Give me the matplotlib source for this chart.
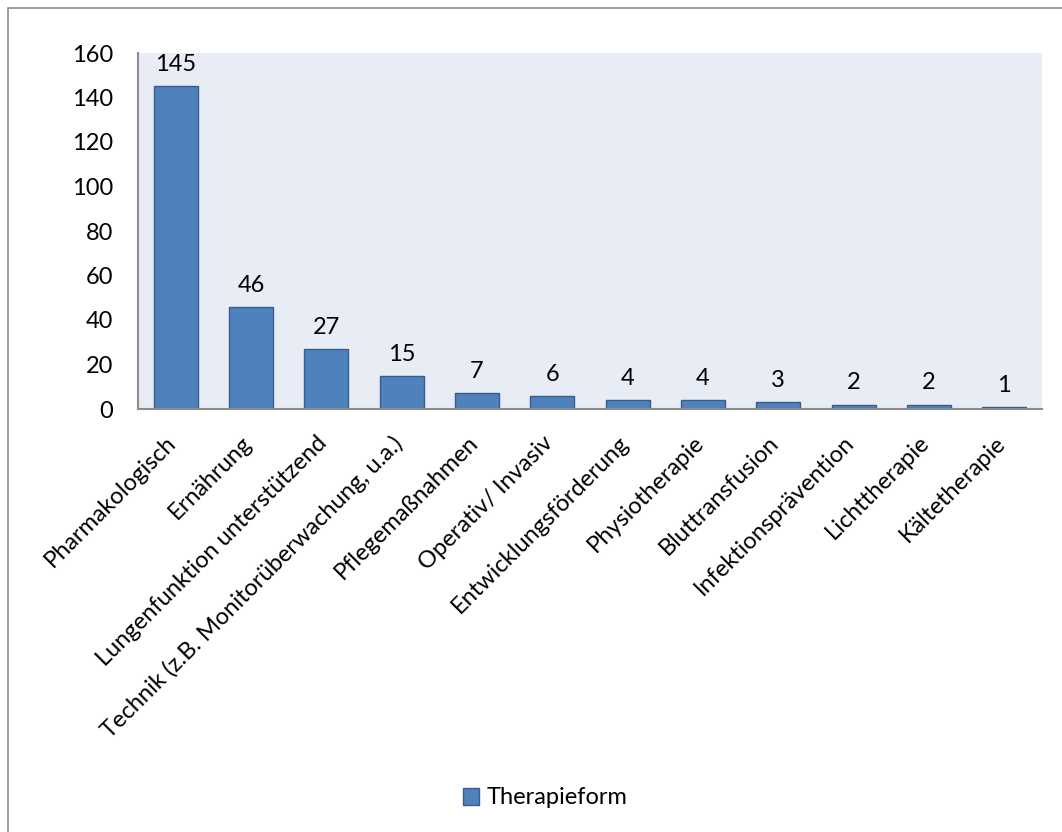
import matplotlib
matplotlib.use("Agg")
import matplotlib.pyplot as plt
import matplotlib.transforms as mtransforms
from matplotlib.patches import Rectangle, Patch

plt.rcParams['font.family'] = ['Lato', 'DejaVu Sans']

categories = [
    "Pharmakologisch",
    "Ernährung",
    "Lungenfunktion unterstützend",
    "Technik (z.B. Monitorüberwachung, u.a.)",
    "Pflegemaßnahmen",
    "Operativ/ Invasiv",
    "Entwicklungsförderung",
    "Physiotherapie",
    "Bluttransfusion",
    "Infektionsprävention",
    "Lichttherapie",
    "Kältetherapie",
]
values = [145, 46, 27, 15, 7, 6, 4, 4, 3, 2, 2, 1]
series_name = "Therapieform"
y_ticks = [0, 20, 40, 60, 80, 100, 120, 140, 160]

FS = 17
W, H = 1062, 832
fig = plt.figure(figsize=(W / 100, H / 100), dpi=100)

# chart frame (left and top edges fall inside the canvas)
fig.add_artist(Rectangle((8 / W, -0.1), 2.0, (H - 8) / H + 0.1,
                         transform=fig.transFigure, fill=False,
                         edgecolor="#8c8c8c", linewidth=1.2))

ax = fig.add_axes([138 / W, 1 - 409 / H, (1042 - 138) / W, (409 - 53) / H])
ax.set_facecolor("#e8ecf5")

x = list(range(len(categories)))
bars = ax.bar(x, values, width=0.585, color="#4f81bd",
              edgecolor="#385d8a", linewidth=1.0, zorder=2)

for xi, v in zip(x, values):
    ax.annotate(str(v), (xi, v), xytext=(0, 8), textcoords="offset points",
                ha="center", va="bottom", fontsize=FS, color="#000000")

ax.set_xlim(-0.5, len(categories) - 0.5)
ax.set_ylim(0, 160)
ax.set_yticks(y_ticks)
ax.set_yticklabels([str(t) for t in y_ticks], fontsize=FS)
ax.tick_params(axis="y", length=0, pad=18)
ax.tick_params(axis="x", length=0, pad=8)
ax.set_xticks(x)
ax.set_xticklabels(categories, rotation=45, ha="right",
                   rotation_mode="anchor", fontsize=FS)

# nudge the slanted category labels down-left so their ends sit under the ticks
shift = mtransforms.ScaledTranslation(-10 / 100, -12 / 100, fig.dpi_scale_trans)
for lbl in ax.get_xticklabels():
    lbl.set_transform(lbl.get_transform() + shift)

for side in ("top", "right"):
    ax.spines[side].set_visible(False)
for side in ("left", "bottom"):
    ax.spines[side].set_color("#8c8c8c")
    ax.spines[side].set_linewidth(1.5)

handle = Patch(facecolor="#4f81bd", edgecolor="#385d8a", label=series_name)
fig.legend(handles=[handle], loc="center", bbox_to_anchor=(545 / W, 1 - 798 / H),
           frameon=False, fontsize=FS, handlelength=0.7, handleheight=0.7,
           handletextpad=0.3)

fig.savefig("out.png", dpi=100)
